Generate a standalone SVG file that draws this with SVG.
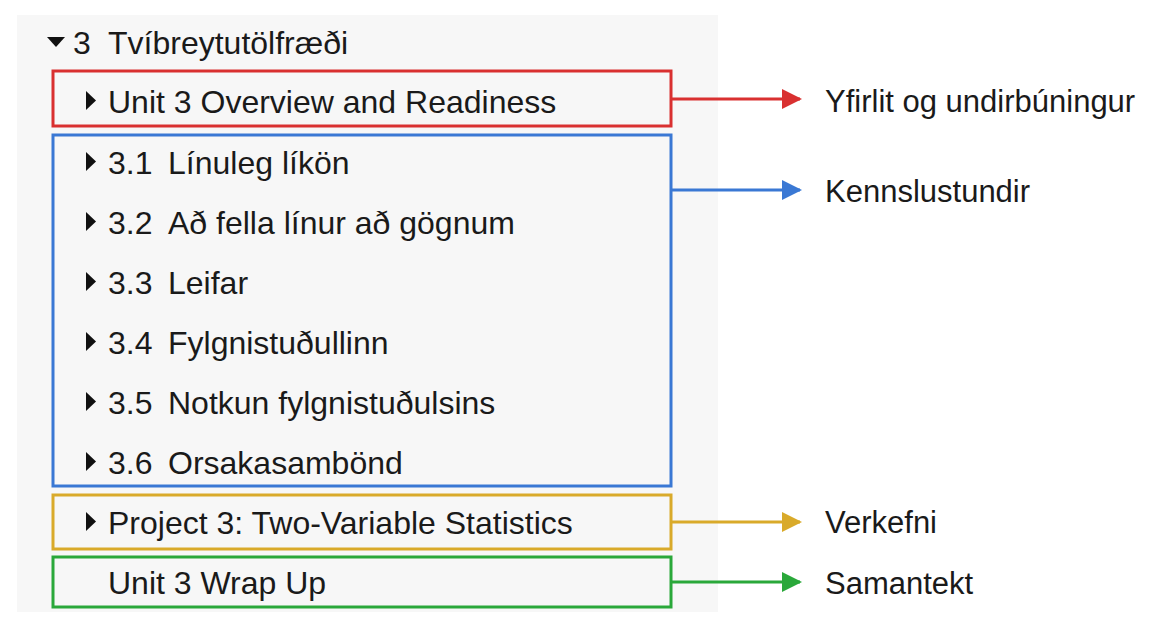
<svg xmlns="http://www.w3.org/2000/svg" width="1150" height="628" viewBox="0 0 1150 628">
<style>
text{font-family:"Liberation Sans",Arial,sans-serif;font-size:32px;fill:#1a1a1a}
.lbl{font-size:31px}
.box{fill:none;stroke-width:3}
.tri{fill:#111}
</style>
<defs>
<marker id="mr" viewBox="0 0 10 10" refX="9" refY="5" markerWidth="20" markerHeight="20" markerUnits="userSpaceOnUse" orient="auto"><path d="M0,0L10,5L0,10z" fill="#d93030"/></marker>
<marker id="mb" viewBox="0 0 10 10" refX="9" refY="5" markerWidth="20" markerHeight="20" markerUnits="userSpaceOnUse" orient="auto"><path d="M0,0L10,5L0,10z" fill="#3a78d4"/></marker>
<marker id="my" viewBox="0 0 10 10" refX="9" refY="5" markerWidth="20" markerHeight="20" markerUnits="userSpaceOnUse" orient="auto"><path d="M0,0L10,5L0,10z" fill="#d9aa2a"/></marker>
<marker id="mg" viewBox="0 0 10 10" refX="9" refY="5" markerWidth="20" markerHeight="20" markerUnits="userSpaceOnUse" orient="auto"><path d="M0,0L10,5L0,10z" fill="#2aa83a"/></marker>
</defs>
<rect width="1150" height="628" fill="#fff"/>
<rect x="17" y="15" width="701" height="597" fill="#f7f7f7"/>
<g id="title"><path class="tri" d="M47,37h18l-9,10z"/><text x="73" y="54">3</text><text x="108" y="54">Tvíbreytutölfræði</text></g>
<g id="overview"><rect class="box" x="53" y="71" width="618" height="55" stroke="#d93030"/><path class="tri" d="M86,91v19l10,-9.5z"/><text x="108" y="113">Unit 3 Overview and Readiness</text></g>
<g id="lessons"><rect class="box" x="53" y="135" width="618" height="351" stroke="#3a78d4"/>
<path class="tri" d="M86,152v19l10,-9.5z"/><text x="108" y="174">3.1</text><text x="168" y="174">Línuleg líkön</text>
<path class="tri" d="M86,212v19l10,-9.5z"/><text x="108" y="234">3.2</text><text x="168" y="234">Að fella línur að gögnum</text>
<path class="tri" d="M86,272v19l10,-9.5z"/><text x="108" y="294">3.3</text><text x="168" y="294">Leifar</text>
<path class="tri" d="M86,332v19l10,-9.5z"/><text x="108" y="354">3.4</text><text x="168" y="354">Fylgnistuðullinn</text>
<path class="tri" d="M86,392v19l10,-9.5z"/><text x="108" y="414">3.5</text><text x="168" y="414">Notkun fylgnistuðulsins</text>
<path class="tri" d="M86,452v19l10,-9.5z"/><text x="108" y="474">3.6</text><text x="168" y="474">Orsakasambönd</text></g>
<g id="project"><rect class="box" x="53" y="495" width="618" height="54" stroke="#d9aa2a"/><path class="tri" d="M86,512v19l10,-9.5z"/><text x="108" y="534">Project 3: Two-Variable Statistics</text></g>
<g id="wrapup"><rect class="box" x="53" y="557" width="618" height="50" stroke="#2aa83a"/><text x="108" y="594">Unit 3 Wrap Up</text></g>
<g id="connectors" stroke-width="3">
<line x1="671" y1="99" x2="800" y2="99" stroke="#d93030" marker-end="url(#mr)"/>
<line x1="671" y1="190" x2="800" y2="190" stroke="#3a78d4" marker-end="url(#mb)"/>
<line x1="671" y1="522" x2="800" y2="522" stroke="#d9aa2a" marker-end="url(#my)"/>
<line x1="671" y1="582" x2="800" y2="582" stroke="#2aa83a" marker-end="url(#mg)"/>
</g>
<g id="labels">
<text class="lbl" x="825" y="112">Yfirlit og undirbúningur</text>
<text class="lbl" x="825" y="202">Kennslustundir</text>
<text class="lbl" x="825" y="533">Verkefni</text>
<text class="lbl" x="825" y="594">Samantekt</text>
</g>
</svg>
